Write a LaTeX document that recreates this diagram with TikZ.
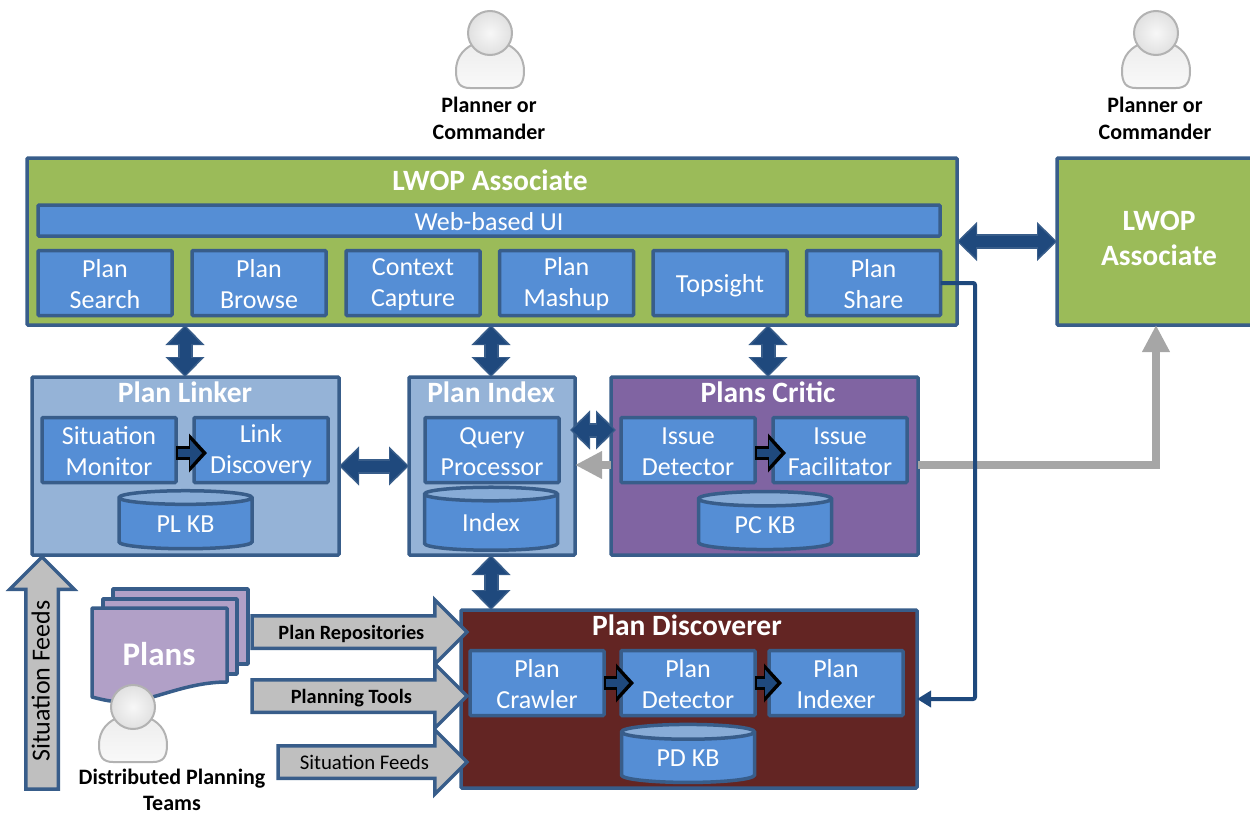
\documentclass[tikz,border=0pt]{standalone}
\usepackage{fontspec}
\setmainfont{Carlito}
\usetikzlibrary{arrows.meta,shapes.geometric,shapes.arrows}
\definecolor{edgeblue}{HTML}{385D8A}
\definecolor{arrowblue}{HTML}{1F497D}
\definecolor{modblue}{HTML}{558ED5}
\definecolor{lwopgreen}{HTML}{9BBB59}
\definecolor{paleblue}{HTML}{95B3D7}
\definecolor{criticpurple}{HTML}{8064A2}
\definecolor{discoverred}{HTML}{632523}
\definecolor{planpurple}{HTML}{B1A0C7}
\definecolor{feedgray}{HTML}{BFBFBF}
\definecolor{linegray}{HTML}{A6A6A6}
\newcommand{\modstrut}{\rule[-5pt]{0pt}{29pt}}
\newcommand{\modtop}{\rule{0pt}{20pt}}
\tikzset{
  x=1pt,y=-1pt,
  box/.style={draw=edgeblue,line width=3.5pt,rounded corners=1pt,inner sep=0pt,outer sep=0pt},
  groupbox/.style={box,text=white},
  modbox/.style={box,fill=modblue,text=white,align=center,minimum height=65pt,minimum width=134pt,
    font=\fontsize{26}{31.5}\selectfont},
  oneline/.style={execute at begin node=\modstrut},
  grouptitle/.style={text=white,inner sep=0pt,font=\fontsize{29.5}{30}\selectfont\bfseries},
  kb/.style={cylinder,shape border rotate=90,aspect=0.235,draw=edgeblue,line width=3.5pt,inner sep=0pt,outer sep=0pt,
    cylinder uses custom fill,cylinder body fill=modblue,cylinder end fill=paleblue!80!modblue,
    minimum width=133pt,minimum height=58pt,text=white,font=\fontsize{26}{30}\selectfont},
  dblarrow/.style={line width=11pt,draw=arrowblue,{Triangle[length=17pt,width=31pt]}-{Triangle[length=17pt,width=31pt]},
    shorten >=2pt,shorten <=2pt,
    preaction={draw=edgeblue,line width=15pt,shorten >=0pt,shorten <=0pt,
      {Triangle[length=20pt,width=38pt]}-{Triangle[length=20pt,width=38pt]}}},
  steparrow/.style={line width=8pt,draw=arrowblue,-{Triangle[length=12pt,width=26pt]},shorten >=-8pt,shorten <=2pt,
    preaction={draw=black,line width=14pt,shorten >=-13pt,shorten <=0pt,-{Triangle[length=18pt,width=38pt]}}},
  grayline/.style={line width=8pt,draw=linegray,-{Triangle[length=27pt,width=26pt]}},
  shareline/.style={line width=4pt,draw=arrowblue,rounded corners=2pt,-{Triangle[length=14pt,width=16pt]}},
  feedarrow/.style={single arrow,draw=edgeblue,fill=feedgray,line width=3.5pt,anchor=tip,inner xsep=0pt,inner ysep=0pt,
    outer sep=0pt,text height=22pt,text depth=7pt,single arrow head extend=16pt,text=black},
  doc/.style={draw=edgeblue,fill=planpurple,line width=3.5pt,line join=round},
  person/.pic={
    \draw[draw=gray!60,line width=2pt,top color=gray!14,bottom color=gray!5]
      (-34,38) .. controls (-34,22) and (-24,14) .. (-14,10) -- (14,10)
      .. controls (24,14) and (34,22) .. (34,38) .. controls (34,50) and (30,55) .. (20,55)
      -- (-20,55) .. controls (-30,55) and (-34,50) .. (-34,38) -- cycle;
    \draw[draw=gray!60,line width=2pt,inner color=gray!6,outer color=gray!24] (0,0) circle (22);
  },
  personlabel/.style={inner sep=0pt,align=center,text=black,font=\fontsize{22}{27}\selectfont\bfseries}
}
\begin{document}
\begin{tikzpicture}
  \path[use as bounding box,clip] (0,0) rectangle (1250,814);
  % groups
  \node[groupbox,fill=lwopgreen,minimum width=930pt,minimum height=167pt] (assoc) at (492,241.5) {};
  \node[groupbox,fill=lwopgreen,minimum width=198pt,minimum height=167pt] (assocb) at (1156,241.5) {};
  \node[groupbox,fill=paleblue,minimum width=307pt,minimum height=178pt] (linker) at (185.5,466) {};
  \node[groupbox,fill=paleblue,minimum width=166pt,minimum height=178pt] (index) at (492,466) {};
  \node[groupbox,fill=criticpurple,minimum width=307pt,minimum height=178pt] (critic) at (764.5,466) {};
  \node[groupbox,fill=discoverred,minimum width=456pt,minimum height=178pt] (discover) at (689,699) {};
  \node[grouptitle] (assoctitle) at (490,180) {LWOP Associate};
  \node[grouptitle,align=center,font=\fontsize{29.5}{35}\selectfont\bfseries] (assocbtitle) at (1159,238) {LWOP\\Associate};
  \node[grouptitle] (linkertitle) at (185,392) {Plan Linker};
  \node[grouptitle] (indextitle) at (491,392) {Plan Index};
  \node[grouptitle] (critictitle) at (768,392) {Plans Critic};
  \node[grouptitle] (discovertitle) at (687,625) {Plan Discoverer};
  % associate
  \node[modbox,oneline,minimum width=902pt,minimum height=31pt] (webui) at (489,220.5) {Web-based UI};
  \node[modbox] (search) at (105,283) {\modtop Plan\\Search};
  \node[modbox] (browse) at (259,283) {\modtop Plan\\Browse};
  \node[modbox] (context) at (413,283) {\modtop Context\\Capture};
  \node[modbox] (mashup) at (566.5,283) {\modtop Plan\\Mashup};
  \node[modbox,oneline] (topsight) at (720,283) {Topsight};
  \node[modbox] (share) at (873.5,283) {\modtop Plan\\Share};
  % modules
  \node[modbox] (monitor) at (109,450) {\modtop Situation\\Monitor};
  \node[modbox] (link) at (261,450) {\modtop Link\\Discovery};
  \node[kb] (plkb) at (185.5,524) {PL KB};
  \node[modbox] (query) at (492,450) {\modtop Query\\Processor};
  \node[kb,minimum height=63pt] (indexkb) at (491,523) {Index};
  \node[modbox] (issue) at (688,450) {\modtop Issue\\Detector};
  \node[modbox] (facil) at (840,450) {\modtop Issue\\Facilitator};
  \node[kb] (pckb) at (765,525) {PC KB};
  \node[modbox] (crawler) at (537,683) {\modtop Plan\\Crawler};
  \node[modbox] (detector) at (688,683) {\modtop Plan\\Detector};
  \node[modbox] (indexer) at (836,683) {\modtop Plan\\Indexer};
  \node[kb] (pdkb) at (688,758) {PD KB};
  % plans
  \draw[doc] (113,589) -- (248,589) -- (248,664) -- (113,664) -- cycle;
  \draw[doc] (103,599) -- (237,599) -- (237,674) -- (103,674) -- cycle;
  \draw[doc] (92,608) -- (227,608) -- (227,682) .. controls (185,682) and (150,702) .. (125,702)
    .. controls (110,702) and (100,699) .. (92,697) -- cycle;
  \node[text=white,inner sep=0pt,font=\fontsize{33}{36}\selectfont\bfseries] (plans) at (159,654) {Plans};
  % people
  \pic at (490,33) {person};
  \pic at (1156,33) {person};
  \pic at (133,707) {person};
  \node[personlabel] (plannera) at (489,118) {Planner or\\Commander};
  \node[personlabel] (plannerb) at (1155,118) {Planner or\\Commander};
  \node[personlabel,font=\fontsize{22}{26}\selectfont\bfseries] (teams) at (172,790) {Distributed Planning\\Teams};
  % feeds
  \node[feedarrow,rotate=90,minimum height=232pt,font=\fontsize{26}{28}\selectfont] (feedup) at (42,557) {Situation Feeds};
  \node[feedarrow,minimum height=215pt,font=\fontsize{20.3}{22}\selectfont\bfseries] (repos) at (467,632) {Plan Repositories};
  \node[feedarrow,minimum height=215pt,font=\fontsize{20.3}{22}\selectfont\bfseries] (tools) at (467,696) {Planning Tools};
  \node[feedarrow,minimum height=189pt,font=\fontsize{20.8}{22}\selectfont] (feeds) at (467,762) {Situation Feeds};
  % connectors
  \coordinate (grayrow) at (0,465);
  \coordinate (busa) at (975,283);
  \coordinate (busb) at (975,699);
  \draw[grayline] (critic.west |- grayrow) -- (index.east |- grayrow);
  \draw[grayline] (critic.east |- grayrow) -| (assocb.south);
  \draw[shareline] (share.east) -- (busa) -- (busb) -- (discover.east);
  \draw[dblarrow] (assoc.east |- assocb.center) -- (assocb.west);
  \draw[dblarrow] (assoc.south -| linkertitle) -- (linker.north -| linkertitle);
  \draw[dblarrow] (assoc.south -| indextitle) -- (index.north -| indextitle);
  \draw[dblarrow] (assoc.south -| critictitle) -- (critic.north -| critictitle);
  \draw[dblarrow] (linker.east) -- (index.west);
  \draw[dblarrow] (index.south -| indextitle) -- (discover.north -| indextitle);
  \draw[dblarrow] ([xshift=-5pt,yshift=36pt]index.east) -- ([xshift=5pt,yshift=36pt]critic.west);
  \draw[steparrow] ([yshift=-3pt]monitor.east) -- ([yshift=-3pt]link.west);
  \draw[steparrow] ([yshift=-3pt]issue.east) -- ([yshift=-3pt]facil.west);
  \draw[steparrow] (crawler.east) -- (detector.west);
  \draw[steparrow] (detector.east) -- (indexer.west);
\end{tikzpicture}
\end{document}
